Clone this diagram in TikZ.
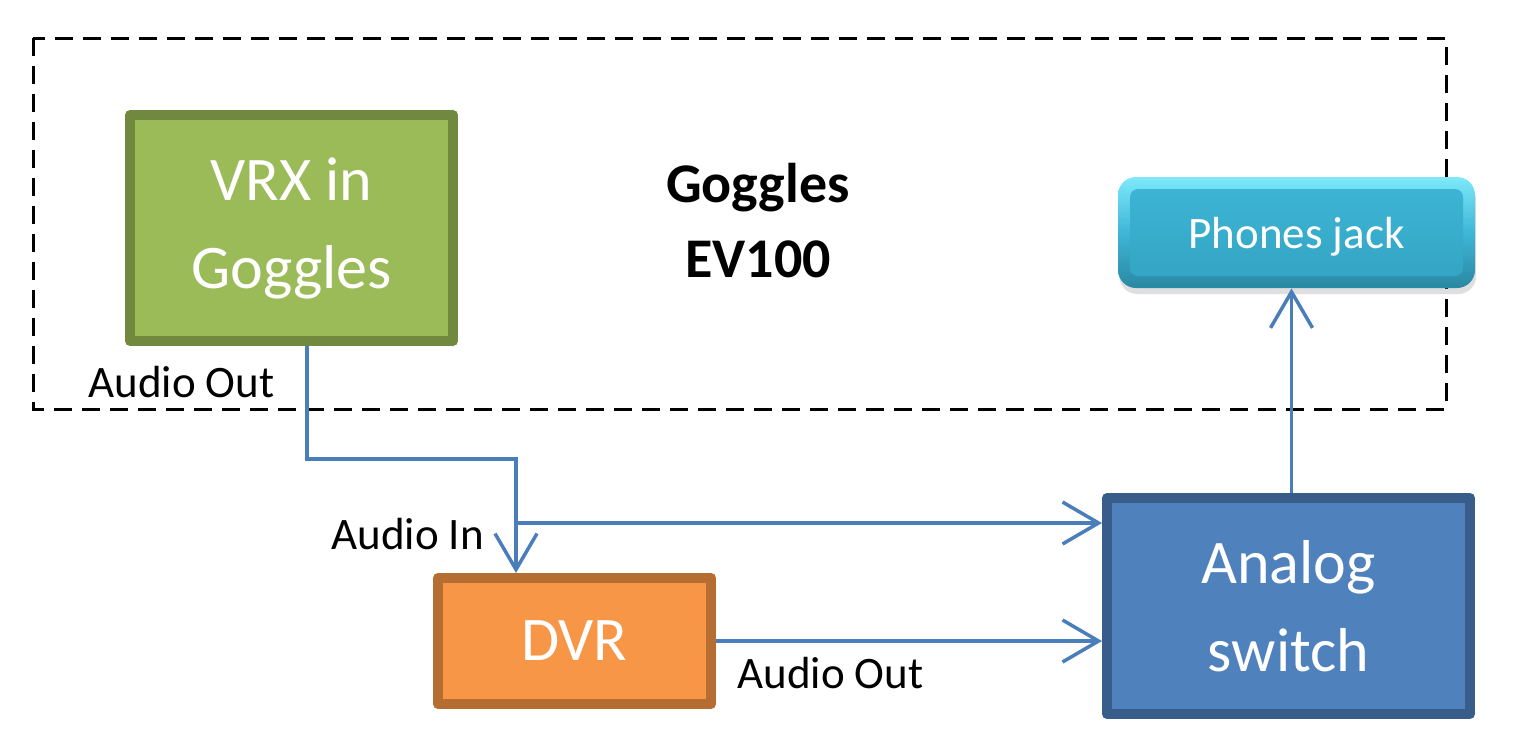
\documentclass[tikz,border=0pt]{standalone}
\usepackage{fontspec}
\setmainfont{Carlito}
\usetikzlibrary{arrows.meta,shadows,calc}
\definecolor{vrxfill}{HTML}{9BBB59}
\definecolor{vrxline}{HTML}{71893F}
\definecolor{dvrfill}{HTML}{F79646}
\definecolor{dvrline}{HTML}{B66D31}
\definecolor{swfill}{HTML}{4F81BD}
\definecolor{swline}{HTML}{385D8A}
\definecolor{wirec}{HTML}{4A7EBB}
\definecolor{pjtop}{HTML}{7DE9FA}
\definecolor{pjbot}{HTML}{2A88A3}
\definecolor{pjin1}{HTML}{3EB6D6}
\definecolor{pjin2}{HTML}{33A3C2}
\tikzset{
  box/.style={draw, line width=5pt, line join=round, inner sep=0pt, text=white, align=center},
  bigtext/.style={font=\fontsize{31}{44}\selectfont},
  lbl/.style={inner sep=0pt, anchor=base west, font=\fontsize{22.5}{27}\selectfont},
  wire/.style={draw=wirec, line width=1.75pt},
  arr/.style={wire, -{Straight Barb[length=18pt,width=21pt]}},
  frame/.style={draw=black, line width=1.5pt, dash pattern=on 9pt off 5pt},
  pjbox/.style={rounded corners=9pt, minimum width=178.5pt, minimum height=55.5pt,
    inner sep=0pt, text depth=0pt, text=white, font=\fontsize{22.5}{27}\selectfont,
    top color=pjtop, bottom color=pjbot, middle color=pjin1,
    drop shadow={opacity=0.25, shadow xshift=0.6pt, shadow yshift=-3pt},
    path picture={\shade[top color=pjin1, bottom color=pjin2, rounded corners=4pt]
      ([shift={(6pt,6pt)}]path picture bounding box.south west) rectangle
      ([shift={(-6pt,-6pt)}]path picture bounding box.north east);}}
}
\begin{document}
\begin{tikzpicture}[x=0.5pt,y=-0.5pt]
\useasboundingbox (0,0) rectangle (1529,745);
% goggles frame
\draw[frame] (33,38) rectangle (1446,409);
\node[inner sep=0pt, align=center, font=\fontsize{28}{37.5}\selectfont\bfseries] (gog) at (758,221) {Goggles\\EV100};
% boxes
\node[box, bigtext, fill=vrxfill, draw=vrxline, minimum width=161.5pt, minimum height=113pt] (vrx) at (291.5,228) {VRX in\\Goggles};
\node[box, bigtext, fill=dvrfill, draw=dvrline, minimum width=136.5pt, minimum height=63pt] (dvr) at (574.5,641) {DVR};
\node[box, bigtext, fill=swfill, draw=swline, minimum width=181.5pt, minimum height=108pt] (sw) at (1288.5,606) {Analog\\switch};
\node[pjbox] (pj) at (1296.5,232.5) {Phones jack};
% labels
\node[lbl] (l1) at (88,397) {Audio Out};
\node[lbl] (l2) at (331,549) {Audio In};
\node[lbl] (l3) at (737,688) {Audio Out};
% connectors
\coordinate (b1) at (307,459);
\coordinate (b2) at (516,459);
\coordinate (split) at (516,523);
\draw[arr] (vrx.south -| b1) -- (b1) -- (b2) -- (dvr.north -| b2);
\draw[arr] (split) -- (sw.west |- split);
\draw[arr] (dvr.east) -- (sw.west |- dvr.east);
\draw[arr] ([xshift=1.5pt]sw.north) -- ([xshift=1.5pt]sw.north |- pj.south);
\end{tikzpicture}
\end{document}
